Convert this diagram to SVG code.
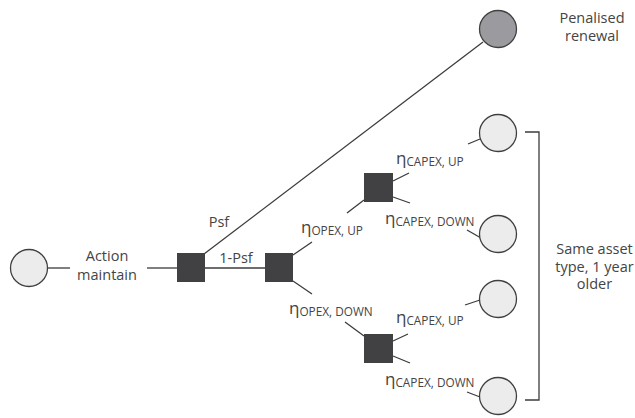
<svg xmlns="http://www.w3.org/2000/svg" width="635" height="418" viewBox="0 0 635 418">
<style>
.ln{stroke:#3c3c3c;stroke-width:1.3;fill:none}
.sq{fill:#414042}
.c{fill:#ececec;stroke:#404040;stroke-width:1.3}
.cd{fill:#9b9b9f;stroke:#404040;stroke-width:1.3}
.t{font-family:"Open Sans","Noto Sans",sans-serif;font-size:14.5px;fill:#444;text-anchor:middle}
.e{font-family:"Open Sans","Noto Sans",sans-serif;font-size:17px;fill:#444}
.s{font-size:11.8px}
</style>
<rect width="635" height="418" fill="#fff"/>
<g id="connectors">
<path class="ln" d="M48,268H70"/>
<path class="ln" d="M147,268H177"/>
<path class="ln" d="M204,268H265"/>
<path class="ln" d="M204,254L483,42"/>
<path class="ln" d="M293,255L312,242M347,213L364,200"/>
<path class="ln" d="M293,281L312,294M345,322L364,336"/>
<path class="ln" d="M393,181L409,173M393,197L410,203"/>
<path class="ln" d="M393,341L408,334M393,356L410,363"/>
<path class="ln" d="M468,144L480,139M467,230L481,238M465,305L480,300M467,392L480,397"/>
<path class="ln" d="M525,132H539V400H525"/>
</g>
<g id="start"><circle class="c" cx="29" cy="268" r="18.5"/></g>
<g id="label-action"><text class="t" x="107" y="261">Action</text><text class="t" x="107" y="280">maintain</text></g>
<g id="chance1"><rect class="sq" x="177" y="253" width="28" height="29"/></g>
<g id="chance2"><rect class="sq" x="265" y="253" width="28" height="29"/></g>
<g id="chance3"><rect class="sq" x="364" y="173" width="29" height="29"/></g>
<g id="chance4"><rect class="sq" x="364" y="334" width="29" height="29"/></g>
<g id="penalised"><circle class="cd" cx="498" cy="29" r="18.5"/><text class="t" x="592" y="23">Penalised</text><text class="t" x="592" y="41">renewal</text></g>
<g id="end1"><circle class="c" cx="498" cy="133" r="18.5"/></g>
<g id="end2"><circle class="c" cx="498" cy="234" r="18.5"/></g>
<g id="end3"><circle class="c" cx="498" cy="299" r="18.5"/></g>
<g id="end4"><circle class="c" cx="498" cy="396" r="18.5"/></g>
<g id="labels">
<text class="t" x="219" y="227">Psf</text>
<text class="t" x="236" y="263">1-Psf</text>
<text class="e" x="301" y="233">η<tspan class="s" dy="2">OPEX, UP</tspan></text>
<text class="e" x="289" y="313.5">η<tspan class="s" dy="2">OPEX, DOWN</tspan></text>
<text class="e" x="396" y="164">η<tspan class="s" dy="2">CAPEX, UP</tspan></text>
<text class="e" x="385" y="224">η<tspan class="s" dy="2">CAPEX, DOWN</tspan></text>
<text class="e" x="396" y="323">η<tspan class="s" dy="2">CAPEX, UP</tspan></text>
<text class="e" x="385" y="384.5">η<tspan class="s" dy="2">CAPEX, DOWN</tspan></text>
<text class="t" x="594.5" y="254">Same asset</text>
<text class="t" x="594.5" y="271.5">type, 1 year</text>
<text class="t" x="594.5" y="289">older</text>
</g>
</svg>
